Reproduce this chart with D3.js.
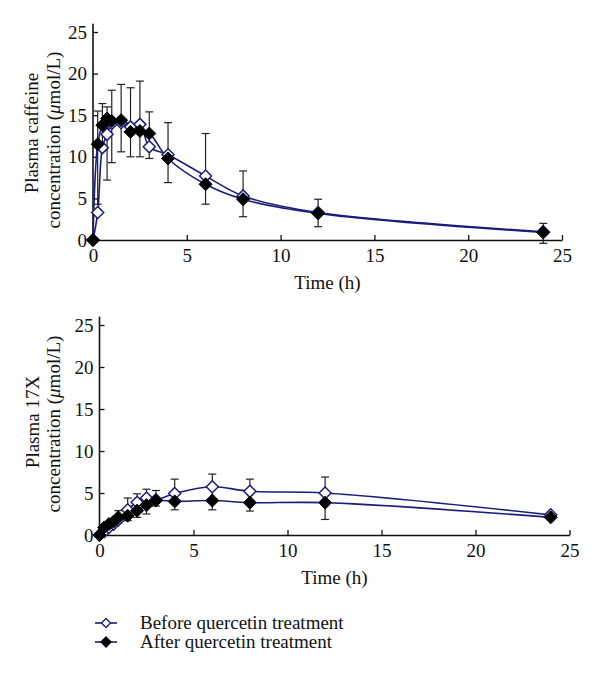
<!DOCTYPE html>
<html>
<head>
<meta charset="utf-8">
<script src="https://cdn.jsdelivr.net/npm/d3@7/dist/d3.min.js"></script>
<style>
  html, body { margin: 0; padding: 0; background: #fff; }
  svg { display: block; }
  text { font-family: "Liberation Serif", "Times New Roman", serif; fill: #111; }
</style>
</head>
<body>
<svg id="chart" width="600" height="679"></svg>
<script>
// ---------------- data ----------------
const times = [0, 0.25, 0.5, 0.75, 1, 1.5, 2, 2.5, 3, 4, 6, 8, 12, 24];

const caffeineBefore = [0, 3.3, 11.1, 12.7, 14.0, 14.1, 13.6, 13.9, 11.2, 10.25, 7.7, 5.3, 3.3, 1.0];
const caffeineAfter  = [0, 11.5, 13.8, 14.6, 14.3, 14.4, 13.0, 13.1, 12.8, 9.8, 6.7, 4.9, 3.2, 0.9];
const caffeineErrHigh = [null, 15.5, 16.4, 16.0, 18.0, 18.7, 18.3, 19.1, 15.4, 14.1, 12.8, 8.3, 4.9, 2.0];
const caffeineErrLow  = [null, 4.3, 11.0, 7.2, 9.3, 10.6, 10.0, 10.0, 9.8, 6.9, 4.3, 2.8, 1.6, -0.4];

const x17Before = [0, 0.4, 0.9, 1.3, 1.8, 3.0, 3.9, 4.4, 4.2, 4.95, 5.75, 5.2, 5.0, 2.4];
const x17After  = [0, 0.9, 1.3, 1.6, 2.1, 2.3, 2.9, 3.55, 4.1, 4.0, 4.1, 3.85, 3.85, 2.1];
const x17ErrHigh = [null, null, null, null, 2.9, 4.4, 4.9, 5.45, 5.3, 6.65, 7.25, 6.65, 6.9, null];
const x17ErrLow  = [null, null, null, null, 1.4, 1.7, 2.1, 2.5, 3.45, 3.0, 3.0, 2.85, 1.85, null];

const xTicks = [0, 5, 10, 15, 20, 25];
const yTicks = [0, 5, 10, 15, 20, 25];
const legendLabels = ["Before quercetin treatment", "After quercetin treatment"];
// --------------------------------------

const LINE = "#1c1c7c";
const svg = d3.select("#chart");

function diamond(r) {
  return `M0,${-r}L${r},0L0,${r}L${-r},0Z`;
}

function panel(opts) {
  const x = d3.scaleLinear().domain([0, 25]).range([opts.x0, opts.x1]);
  const y = d3.scaleLinear().domain([0, 25]).range([opts.y0, opts.y25]);
  const yTop = y(26);
  const g = svg.append("g");

  // axes
  const xAxis = d3.axisBottom(x).tickValues(xTicks).tickSizeInner(-5).tickSizeOuter(0).tickPadding(9);
  const yAxis = d3.axisLeft(y).tickValues(yTicks).tickSizeInner(-5).tickSizeOuter(0).tickPadding(6);
  const gx = g.append("g").attr("transform", `translate(0,${opts.y0})`).call(xAxis);
  const gy = g.append("g").attr("transform", `translate(${opts.x0},0)`).call(yAxis);
  gy.select(".domain").attr("d", `M0,${opts.y0}V${yTop}`);
  [gx, gy].forEach(a => {
    a.select(".domain").attr("stroke", "#111").attr("stroke-width", 1.6);
    a.selectAll(".tick line").attr("stroke", "#111").attr("stroke-width", 1.3);
    a.selectAll(".tick text").style("font-family", '"Liberation Serif", serif').style("font-size", "19px").attr("fill", "#111");
  });

  // axis titles
  g.append("text").attr("x", (opts.x0 + opts.x1) / 2).attr("y", opts.y0 + 49)
    .attr("text-anchor", "middle").style("font-size", "19px").text("Time (h)");
  opts.ylab.forEach((l, i) => {
    g.append("text").attr("transform", `translate(${l.x},${l.y}) rotate(-90)`)
      .attr("text-anchor", "middle").attr("dy", "0.35em").style("font-size", "19px")
      .html(l.html);
  });

  const pts = (vals) => times.map((t, i) => [t, vals[i]]);
  const line = d3.line().x(d => x(d[0])).y(d => y(d[1])).curve(d3.curveCatmullRom.alpha(0.5));

  g.append("path").attr("d", line(pts(opts.before))).attr("fill", "none").attr("stroke", LINE).attr("stroke-width", 1.6);
  g.append("path").attr("d", line(pts(opts.after))).attr("fill", "none").attr("stroke", LINE).attr("stroke-width", 1.6);

  // error bars
  const eb = times.map((t, i) => ({ t, hi: opts.errHigh[i], lo: opts.errLow[i] })).filter(d => d.hi != null);
  const ge = g.append("g").attr("stroke", "#222").attr("stroke-width", 1.2);
  eb.forEach(d => {
    ge.append("line").attr("x1", x(d.t)).attr("x2", x(d.t)).attr("y1", y(d.hi)).attr("y2", y(d.lo));
    ge.append("line").attr("x1", x(d.t) - 4).attr("x2", x(d.t) + 4).attr("y1", y(d.hi)).attr("y2", y(d.hi));
    ge.append("line").attr("x1", x(d.t) - 4).attr("x2", x(d.t) + 4).attr("y1", y(d.lo)).attr("y2", y(d.lo));
  });

  // markers
  g.append("g").selectAll("path").data(pts(opts.before)).join("path")
    .attr("d", diamond(6)).attr("transform", d => `translate(${x(d[0])},${y(d[1])})`)
    .attr("fill", "#fff").attr("stroke", LINE).attr("stroke-width", 1.5);
  g.append("g").selectAll("path").data(pts(opts.after)).join("path")
    .attr("d", diamond(6.5)).attr("transform", d => `translate(${x(d[0])},${y(d[1])})`)
    .attr("fill", "#000").attr("stroke", "#000").attr("stroke-width", 1);
}

panel({
  x0: 93, x1: 562, y0: 240, y25: 32,
  before: caffeineBefore, after: caffeineAfter,
  errHigh: caffeineErrHigh, errLow: caffeineErrLow,
  ylab: [
    { x: 31, y: 133, html: "Plasma caffeine" },
    { x: 53, y: 140, html: 'concentration (<tspan font-style="italic">μ</tspan>mol/L)' }
  ]
});

panel({
  x0: 99.5, x1: 569.5, y0: 535, y25: 325,
  before: x17Before, after: x17After,
  errHigh: x17ErrHigh, errLow: x17ErrLow,
  ylab: [
    { x: 32, y: 422, html: "Plasma 17X" },
    { x: 53, y: 424, html: 'concentration (<tspan font-style="italic">μ</tspan>mol/L)' }
  ]
});

// legend
const lg = svg.append("g");
legendLabels.forEach((lab, i) => {
  const yy = 623 + i * 19;
  lg.append("line").attr("x1", 95).attr("x2", 117).attr("y1", yy).attr("y2", yy)
    .attr("stroke", LINE).attr("stroke-width", 1.6);
  lg.append("path").attr("d", diamond(i === 0 ? 4.5 : 5)).attr("transform", `translate(106,${yy})`)
    .attr("fill", i === 0 ? "#fff" : "#000").attr("stroke", i === 0 ? LINE : "#000").attr("stroke-width", 1.3);
  lg.append("text").attr("x", 140).attr("y", yy).attr("dy", "0.33em")
    .style("font-size", "19px").text(lab);
});
</script>
</body>
</html>
